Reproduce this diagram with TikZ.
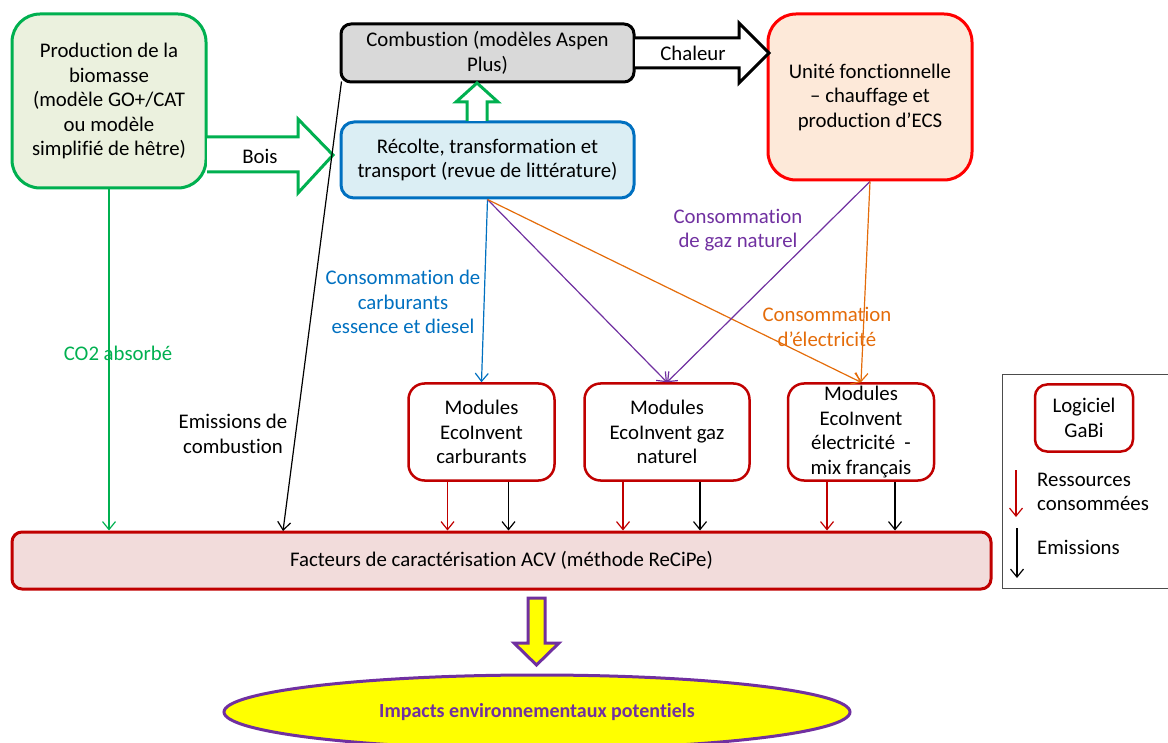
\documentclass[tikz,border=0pt]{standalone}
\usepackage{fontspec}
\setmainfont[Ligatures={NoCommon}]{Carlito}
\usetikzlibrary{arrows.meta,shapes.geometric,calc}

\definecolor{cgreen}{HTML}{00B050}
\definecolor{prodfill}{HTML}{EBF1DE}
\definecolor{combfill}{HTML}{D9D9D9}
\definecolor{unitfill}{HTML}{FDE9D9}
\definecolor{recfill}{HTML}{DBEEF4}
\definecolor{cblue}{HTML}{0070C0}
\definecolor{cpurple}{HTML}{7030A0}
\definecolor{corange}{HTML}{E46C0A}
\definecolor{cdarkred}{HTML}{C00000}
\definecolor{factfill}{HTML}{F2DCDB}
\definecolor{cyellow}{HTML}{FFFF00}

\tikzset{
  txt/.style={font=\fontsize{20.8}{24.5}\selectfont, align=center, inner sep=0pt},
  box/.style={txt, draw, rectangle, line width=3pt},
  modbox/.style={box, draw=cdarkred, fill=white, line width=2.5pt, rounded corners=16pt,
    minimum width=146pt, minimum height=97pt},
  tip/.style={-{Straight Barb[length=8pt,width=13pt]}},
  link/.style={tip, line width=1.2pt},
  blockarrow/.style={line width=3pt, fill=white, line join=miter},
}

\begin{document}
\begin{tikzpicture}[x=1pt,y=-1pt]
\useasboundingbox (0,0) rectangle (1168,743);

% main process boxes
\node[box, draw=cgreen, fill=prodfill, rounded corners=28pt,
      minimum width=194pt, minimum height=174pt] (prod) at (109,101)
  {Production de la\\biomasse\\(modèle GO+/CAT\\ou modèle\\simplifié de hêtre)};
\node[box, draw=black, fill=combfill, rounded corners=10pt,
      minimum width=293pt, minimum height=58pt] (comb) at (487.5,53)
  {Combustion (modèles Aspen\\Plus)};
\node[box, draw=red, fill=unitfill, rounded corners=28pt,
      minimum width=204pt, minimum height=166pt] (unit) at (870,97)
  {Unité fonctionnelle\\– chauffage et\\production d’ECS};
\node[box, draw=cblue, fill=recfill, rounded corners=13pt,
      minimum width=293pt, minimum height=76pt] (rec) at (487.5,160)
  {Récolte, transformation et\\transport (revue de littérature)};

% EcoInvent modules
\node[modbox] (m1) at (481.5,432) {Modules\\EcoInvent\\carburants};
\node[modbox, minimum width=165pt] (m2) at (667,432) {Modules\\EcoInvent gaz\\naturel};
\node[modbox] (m3) at (861,432) {Modules\\EcoInvent\\électricité\ \ -\\mix français};

% characterisation factors
\node[box, draw=cdarkred, fill=factfill, rounded corners=10pt,
      minimum width=979pt, minimum height=57pt] (fact) at (501.5,560.5)
  {Facteurs de caractérisation ACV (méthode ReCiPe)};

% impacts
\node[ellipse, draw=cpurple, fill=cyellow, line width=3pt, minimum width=626pt,
      minimum height=74pt, inner sep=0pt, text=cpurple,
      font=\fontsize{20}{24}\selectfont\bfseries] (imp) at (537,712)
  {Impacts environnementaux potentiels};

% block arrows
\draw[blockarrow, draw=cgreen] (207,137) -- (298,137) -- (298,119) -- (333,155)
  -- (298,193) -- (298,172) -- (207,172);
\node[txt] (bois) at (260,156) {Bois};
\draw[blockarrow, draw=black] (635,38) -- (739,38) -- (739,23) -- (769,53)
  -- (739,83) -- (739,68) -- (635,68);
\node[txt] (chaleur) at (693,53) {Chaleur};
\draw[blockarrow, draw=cgreen] (467,121) -- (467,102) -- (456,102) -- (477,83)
  -- (498,102) -- (487,102) -- (487,121);
\draw[line width=3pt, draw=cpurple, fill=cyellow, line join=miter]
  (528,598) -- (545,598) -- (545,643) -- (559,643) -- (536.5,665) -- (514,643)
  -- (528,643) -- cycle;

% flows towards the characterisation factors
\draw[link, draw=cgreen] (prod.south) -- (prod.south |- fact.north);
\node[txt, text=cgreen] (co2) at (118,353) {CO2 absorbé};
\coordinate (cstart) at ($(comb.south west)+(2,-2)$);
\coordinate (cend) at (283,531);
\draw[link, draw=black] (cstart) -- (cend);
\node[txt] (emcomb) at (233,434) {Emissions de\\combustion};

% consumption flows
\draw[link, draw=cblue] (rec.south) -- (m1.north);
\draw[link, draw=cpurple] (rec.south) -- (m2.north);
\draw[link, draw=corange] (rec.south) -- (m3.north);
\draw[link, draw=cpurple] (unit.south) -- (m2.north);
\draw[link, draw=corange] (unit.south) -- (m3.north);
\node[txt, text=cblue] (lcarb) at (403,302) {Consommation de\\carburants\\essence et diesel};
\node[txt, text=cpurple] (lgaz) at (738,230) {Consommation\\de gaz naturel};
\node[txt, text=corange] (lelec) at (827,327) {Consommation\\d’électricité};

% resources and emissions of each module
\foreach \m/\r/\e in {m1/-34/27, m2/-44/33, m3/-34/34} {
  \draw[link, draw=cdarkred] ([xshift=\r pt]\m.south) -- ([xshift=\r pt]\m.south |- fact.north);
  \draw[link, draw=black] ([xshift=\e pt]\m.south) -- ([xshift=\e pt]\m.south |- fact.north);
}

% legend
\node[draw=black!70, line width=1pt, minimum width=166pt, minimum height=213pt,
      inner sep=0pt] (legend) at (1085,481.5) {};
\node[modbox, minimum width=98pt, minimum height=67pt, rounded corners=12pt] (gabi)
  at (1084,418) {Logiciel\\GaBi};
\coordinate (ra) at (1016,470);
\coordinate (rb) at (1016,517);
\coordinate (ea) at (1017,528);
\coordinate (eb) at (1017,578);
\draw[link, draw=cdarkred] (ra) -- (rb);
\draw[link, draw=black] (ea) -- (eb);
\node[txt, align=left, anchor=west] (lres) at (1037,492) {Ressources\\consommées};
\node[txt, align=left, anchor=west] (lem) at (1037,547) {Emissions};
\end{tikzpicture}
\end{document}
